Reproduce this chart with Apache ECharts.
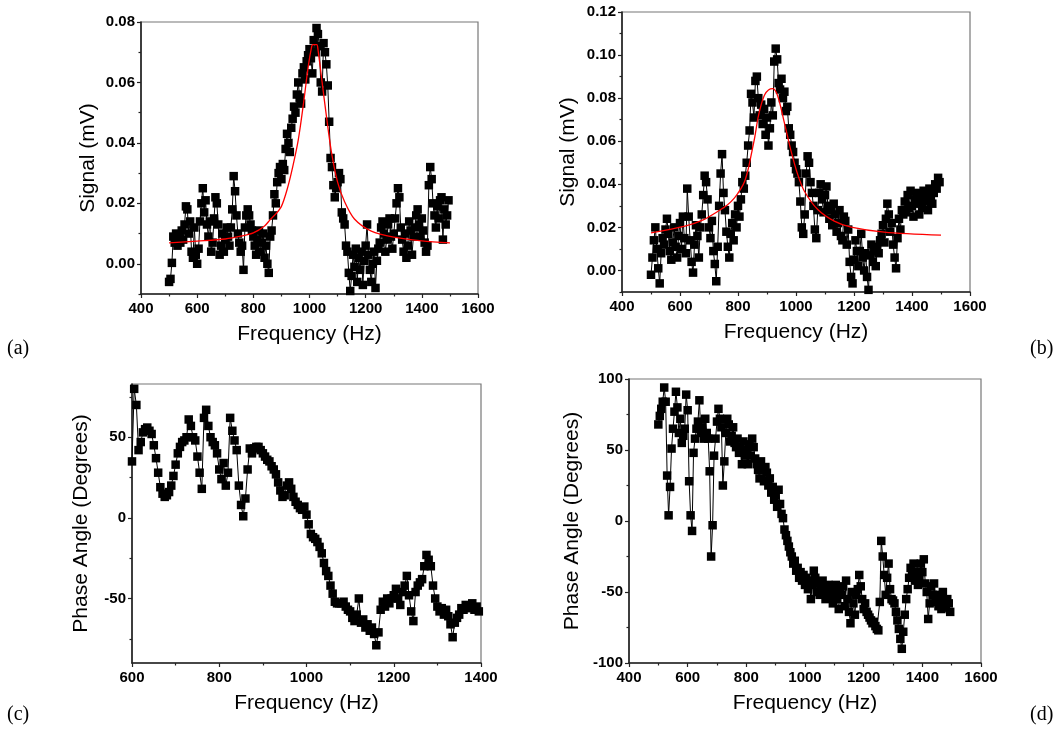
<!DOCTYPE html>
<html><head><meta charset="utf-8">
<script src="https://cdn.jsdelivr.net/npm/echarts@6/dist/echarts.min.js"></script>
<style>html,body{margin:0;padding:0;background:#fff}#c{width:1058px;height:742px}</style>
</head><body><div id="c"></div>
<script>
// ---------- data ----------
const freqStartA = 500, freqStepA = 5;
const signalA = [
-0.006,-0.005,0.0003,0.009,0.007,0.010,0.006,0.009,0.007,0.011,
0.008,0.013,0.019,0.018,0.010,0.014,0.004,0.002,0.012,0.003,
0.000,0.005,0.014,0.020,0.025,0.017,0.021,0.013,0.009,0.014,
0.004,0.007,0.015,0.022,0.020,0.013,0.003,0.006,0.010,0.004,
0.008,0.012,0.009,0.006,0.012,0.018,0.029,0.024,0.016,0.010,
0.007,0.004,0.006,-0.002,0.012,0.016,0.018,0.016,0.013,0.011,
0.009,0.006,0.003,0.008,0.011,0.004,0.007,0.010,0.002,0.006,
0.000,-0.003,0.009,0.011,0.016,0.023,0.020,0.027,0.030,0.032,
0.028,0.033,0.031,0.038,0.043,0.040,0.037,0.045,0.048,0.052,
0.050,0.056,0.060,0.055,0.053,0.063,0.065,0.061,0.067,0.069,
0.071,0.068,0.063,0.074,0.070,0.078,0.076,0.072,0.060,0.057,
0.073,0.070,0.066,0.059,0.047,0.035,0.032,0.026,0.022,0.025,
0.027,0.030,0.028,0.017,0.015,0.013,0.006,0.004,-0.003,-0.009,
-0.004,0.003,-0.001,0.005,-0.006,0.002,-0.002,0.004,-0.007,0.001,
0.006,0.013,0.003,-0.002,-0.006,0.000,0.004,-0.008,0.001,0.005,
0.007,0.012,0.014,0.010,0.004,0.008,0.013,0.015,0.009,0.005,
0.010,0.015,0.020,0.025,0.022,0.012,0.008,0.004,0.010,0.002,
0.006,0.014,0.011,0.003,0.009,0.012,0.016,0.018,0.013,0.009,
0.015,0.011,0.007,0.004,0.006,0.026,0.032,0.028,0.020,0.016,
0.012,0.019,0.015,0.021,0.022,0.008,0.018,0.013,0.016,0.021];
const fitFreqA = [500,600,700,760,800,840,860,880,900,920,940,960,980,995,1008,1012,1026,1030,1045,1060,1078,1100,1125,1160,1220,1300,1400,1500];
const fitA = [0.0069,0.0075,0.0082,0.0092,0.0102,0.0125,0.0146,0.0165,0.0190,0.0245,0.0320,0.0410,0.0540,0.0650,0.0720,0.0725,0.0725,0.0710,0.0600,0.0490,0.0370,0.0270,0.0205,0.0148,0.0108,0.0088,0.0076,0.0069];

const freqStartB = 500, freqStepB = 5;
const signalB = [
-0.002,0.006,0.014,0.020,0.010,0.001,-0.006,0.008,0.015,0.012,
0.019,0.024,0.017,0.009,0.005,0.013,0.020,0.011,0.006,0.016,
0.022,0.010,0.025,0.015,0.008,0.038,0.025,0.014,0.004,-0.001,
0.012,0.021,0.016,0.006,0.020,0.026,0.035,0.044,0.041,0.033,
0.020,0.015,0.023,0.009,0.003,-0.005,0.011,0.030,0.045,0.054,
0.036,0.028,0.018,0.011,0.006,0.017,0.022,0.014,0.026,0.020,
0.030,0.025,0.033,0.041,0.038,0.044,0.050,0.058,0.065,0.082,
0.078,0.071,0.088,0.090,0.080,0.072,0.077,0.068,0.075,0.063,
0.071,0.058,0.066,0.078,0.072,0.097,0.103,0.098,0.087,0.084,
0.089,0.080,0.083,0.074,0.076,0.066,0.063,0.058,0.055,0.050,
0.047,0.045,0.041,0.032,0.020,0.017,0.026,0.045,0.053,0.050,
0.041,0.036,0.030,0.019,0.015,0.028,0.036,0.040,0.033,0.027,
0.035,0.039,0.030,0.024,0.028,0.021,0.031,0.026,0.018,0.022,
0.028,0.016,0.014,0.025,0.023,0.012,0.019,0.004,-0.003,-0.006,
0.005,0.014,0.009,0.002,0.009,0.017,0.006,0.000,0.008,-0.003,
-0.009,0.007,0.012,0.004,0.009,0.002,0.011,0.008,0.014,0.017,
0.021,0.013,0.024,0.031,0.026,0.018,0.022,0.012,0.006,0.001,
0.015,0.024,0.019,0.028,0.026,0.032,0.027,0.035,0.029,0.037,
0.030,0.025,0.033,0.036,0.031,0.026,0.034,0.029,0.037,0.032,
0.035,0.028,0.038,0.033,0.031,0.036,0.040,0.038,0.043,0.041];
const fitFreqB = [500,617,680,731,760,788,810,823,835,846,858,869,880,892,905,920,937,960,983,1006,1029,1075,1132,1190,1304,1500];
const fitB = [0.0175,0.0206,0.0235,0.0275,0.0300,0.0337,0.0380,0.0414,0.0470,0.0540,0.0620,0.0708,0.0770,0.0816,0.0838,0.0844,0.0810,0.0685,0.0554,0.0445,0.0368,0.0283,0.0229,0.0201,0.0178,0.0164];

const freqStartC = 600, freqStepC = 5;
const phaseC = [
35,80,70,42,47,53,55,56,54,52,
45,37,28,19,15,13,14,16,20,26,
33,40,44,47,48,50,61,57,50,48,
38,28,18,62,67,57,50,47,45,40,
30,24,34,20,28,62,54,48,42,20,
8,1,12,30,43,40,43,44,44,42,
40,38,36,35,32,30,27,22,17,13,
14,20,22,18,13,10,8,6,5,7,
2,-4,-10,-12,-13,-15,-18,-22,-28,-33,
-36,-42,-47,-52,-53,-53,-53,-52,-55,-57,
-58,-62,-64,-60,-50,-65,-63,-68,-66,-70,
-68,-72,-79,-71,-57,-52,-55,-50,-53,-50,
-48,-44,-50,-54,-46,-42,-36,-48,-58,-64,
-46,-42,-40,-38,-30,-23,-26,-30,-42,-50,
-55,-58,-56,-60,-57,-61,-66,-74,-65,-62,
-60,-56,-57,-54,-56,-55,-53,-57,-55,-58];

const freqStartD = 500, freqStepD = 5;
const phaseD = [
68,74,79,84,94,84,32,4,24,51,
65,77,91,80,62,72,55,60,65,89,
78,28,4,-7,48,58,65,70,85,62,
66,58,72,62,58,35,-25,-3,46,58,
70,79,72,66,25,42,62,72,68,56,
60,66,55,52,58,48,52,40,56,46,
50,40,54,46,58,52,44,40,36,30,
42,36,28,38,34,25,30,20,24,15,
18,10,22,12,5,2,-6,-10,-14,-18,
-22,-25,-30,-28,-35,-33,-40,-36,-42,-38,
-45,-40,-48,-42,-55,-45,-35,-40,-50,-44,
-52,-46,-42,-48,-55,-50,-45,-53,-48,-58,
-50,-45,-55,-62,-48,-52,-46,-60,-42,-55,
-64,-72,-50,-58,-66,-52,-48,-38,-46,-55,
-62,-58,-64,-66,-68,-70,-72,-71,-74,-76,
-77,-57,-14,-25,-38,-52,-40,-30,-48,-55,
-56,-58,-64,-70,-76,-83,-90,-78,-66,-55,
-48,-40,-33,-38,-30,-42,-36,-45,-40,-30,
-36,-27,-44,-50,-69,-58,-46,-52,-44,-57,
-52,-60,-55,-62,-50,-56,-61,-55,-58,-64];

// tick labels
const xTicksWide = [400,600,800,1000,1200,1400,1600];
const xMinorWide = [500,700,900,1100,1300,1500];
const xTicksC = [600,800,1000,1200,1400];
const xMinorC = [700,900,1100,1300];
const yTicksA = [0,0.02,0.04,0.06,0.08];
const yMinorA = [-0.01,0.01,0.03,0.05,0.07];
const yTicksB = [0,0.02,0.04,0.06,0.08,0.10,0.12];
const yMinorB = [-0.01,0.01,0.03,0.05,0.07,0.09,0.11];
const yTicksC = [-50,0,50];
const yMinorC = [-75,-25,25,75];
const yTicksD = [-100,-50,0,50,100];
const yMinorD = [-75,-25,25,75];

// ---------- chart ----------
const FONT = '"Liberation Sans", Arial, sans-serif';
const AX = '#222';
function pairs(start, step, vals){ return vals.map((v,i)=>[start+i*step, v]); }
function zipXY(xs, ys){ return xs.map((x,i)=>[x, ys[i]]); }

function mainAxis(kind, grid, min, max, ticks, name, gap, fmt){
  return {
    type:'value', gridIndex:grid, min, max,
    position: kind==='x' ? 'bottom' : 'left',
    name, nameLocation:'middle', nameGap:gap,
    nameTextStyle:{fontFamily:FONT, fontSize:21, color:'#000'},
    axisLine:{show:true, onZero:false, lineStyle:{color:AX, width:1.6}},
    axisTick:{show:true, inside:false, length:4, customValues:ticks, lineStyle:{color:AX, width:1.2}},
    axisLabel:{show:true, customValues:ticks, margin: kind==='x'?7:6, fontFamily:FONT, fontWeight:'bold', fontSize:15, color:'#000', formatter:fmt},
    splitLine:{show:false}
  };
}
function minorAxis(kind, grid, min, max, ticks){
  return {
    type:'value', gridIndex:grid, min, max,
    position: kind==='x' ? 'bottom' : 'left',
    axisLine:{show:false, onZero:false},
    axisTick:{show:true, inside:false, length:2.5, customValues:ticks, lineStyle:{color:AX, width:1.2}},
    axisLabel:{show:false},
    splitLine:{show:false}
  };
}
const f2 = v => v.toFixed(2);
const f0 = v => String(Math.round(v));

const grids = [
  {left:141, top:22, width:337, height:272},
  {left:622, top:12, width:348, height:280},
  {left:132, top:384, width:349, height:279},
  {left:629, top:379, width:352, height:284}
].map(g=>Object.assign(g,{show:true, borderColor:'#777', borderWidth:1.2, backgroundColor:'transparent', containLabel:false}));

const xAxes = [
  mainAxis('x',0,400,1600,xTicksWide,'Frequency (Hz)',30,f0), minorAxis('x',0,400,1600,xMinorWide),
  mainAxis('x',1,400,1600,xTicksWide,'Frequency (Hz)',30,f0), minorAxis('x',1,400,1600,xMinorWide),
  mainAxis('x',2,600,1400,xTicksC,'Frequency (Hz)',30,f0), minorAxis('x',2,600,1400,xMinorC),
  mainAxis('x',3,400,1600,xTicksWide,'Frequency (Hz)',30,f0), minorAxis('x',3,400,1600,xMinorWide)
];
const yAxes = [
  mainAxis('y',0,-0.01,0.08,yTicksA,'Signal (mV)',42,f2), minorAxis('y',0,-0.01,0.08,yMinorA),
  mainAxis('y',1,-0.01,0.12,yTicksB,'Signal (mV)',43,f2), minorAxis('y',1,-0.01,0.12,yMinorB),
  mainAxis('y',2,-90,83,yTicksC,'Phase Angle (Degrees)',40,f0), minorAxis('y',2,-90,83,yMinorC),
  mainAxis('y',3,-100,100,yTicksD,'Phase Angle (Degrees)',46,f0), minorAxis('y',3,-100,100,yMinorD)
];

function dataSeries(axisIdx, data){
  return {type:'line', xAxisIndex:axisIdx, yAxisIndex:axisIdx, data,
    symbol:'rect', symbolSize:8.5, showAllSymbol:true, showSymbol:true,
    lineStyle:{color:'#000', width:1}, itemStyle:{color:'#000'},
    clip:true, z:2, silent:true, animation:false};
}
function fitSeries(axisIdx, data){
  return {type:'line', xAxisIndex:axisIdx, yAxisIndex:axisIdx, data,
    showSymbol:false, symbol:'none', smooth:0.3,
    lineStyle:{color:'#ff0000', width:1.3}, clip:true, z:3, silent:true, animation:false};
}

const series = [
  dataSeries(0, pairs(freqStartA, freqStepA, signalA)),
  fitSeries(0, zipXY(fitFreqA, fitA)),
  dataSeries(2, pairs(freqStartB, freqStepB, signalB)),
  fitSeries(2, zipXY(fitFreqB, fitB)),
  dataSeries(4, pairs(freqStartC, freqStepC, phaseC)),
  dataSeries(6, pairs(freqStartD, freqStepD, phaseD))
];

const panelFont = {fontFamily:'"Liberation Serif", "Times New Roman", serif', fontSize:20, fill:'#000'};
const graphic = [
  {type:'text', left:7, top:339, style:Object.assign({text:'(a)'}, panelFont)},
  {type:'text', left:1030, top:339, style:Object.assign({text:'(b)'}, panelFont)},
  {type:'text', left:7, top:705, style:Object.assign({text:'(c)'}, panelFont)},
  {type:'text', left:1030, top:705, style:Object.assign({text:'(d)'}, panelFont)}
];

const chart = echarts.init(document.getElementById('c'), null, {renderer:'canvas'});
chart.setOption({
  animation:false,
  backgroundColor:'#fff',
  grid:grids, xAxis:xAxes, yAxis:yAxes, series, graphic
});
</script>
</body></html>
